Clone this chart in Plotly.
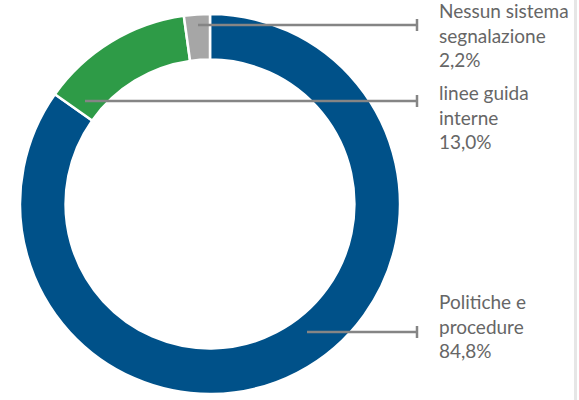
import plotly.graph_objects as go

# Share of organisations by type of reporting system
categories = ["Politiche e procedure", "linee guida interne", "Nessun sistema segnalazione"]
label_lines = [["Politiche e", "procedure"], ["linee guida", "interne"], ["Nessun sistema", "segnalazione"]]
values = [84.8, 13.0, 2.2]
colors = ["#005189", "#2E9B47", "#A6A6A6"]

W, H = 579, 400


def px(x):
    return x / W


def py(y):
    return 1 - y / H


fig = go.Figure(
    go.Pie(
        labels=categories,
        values=values,
        hole=0.76,
        sort=False,
        direction="clockwise",
        rotation=0,
        textinfo="none",
        hoverinfo="label+percent",
        marker=dict(colors=colors, line=dict(color="white", width=2.5)),
        domain=dict(x=[px(20), px(400)], y=[py(394), py(14)]),
        showlegend=False,
    )
)

# leader lines: (start x, y) in pixels, all ending at a capped x
leaders = [(307, 332), (85, 101), (198, 25)]
label_y = [326, 117, 35]
cap_x = 417
shapes = []
annotations = []
for (x0, y0), ly, lines, v in zip(leaders, label_y, label_lines, values):
    shapes.append(dict(type="line", xref="paper", yref="paper",
                       x0=px(x0), x1=px(cap_x), y0=py(y0), y1=py(y0),
                       line=dict(color="#858585", width=2.5)))
    shapes.append(dict(type="line", xref="paper", yref="paper",
                       x0=px(cap_x), x1=px(cap_x), y0=py(y0 - 6), y1=py(y0 + 6),
                       line=dict(color="#858585", width=2.5)))
    text = "<br>".join(lines + [f"{v:.1f}%".replace(".", ",")])
    annotations.append(dict(xref="paper", yref="paper", x=px(437), y=py(ly),
                            xanchor="left", yanchor="middle", align="left",
                            showarrow=False, text=text,
                            font=dict(family="Lato", size=19, color="#666666")))

# thin light border on the right edge
shapes.append(dict(type="rect", xref="paper", yref="paper",
                   x0=px(574), x1=px(577), y0=0, y1=1,
                   fillcolor="#E6E6E6", line=dict(width=0), layer="below"))

fig.update_layout(
    width=W, height=H,
    margin=dict(l=0, r=0, t=0, b=0),
    paper_bgcolor="white",
    plot_bgcolor="white",
    shapes=shapes,
    annotations=annotations,
)

fig.write_html("out.html")
